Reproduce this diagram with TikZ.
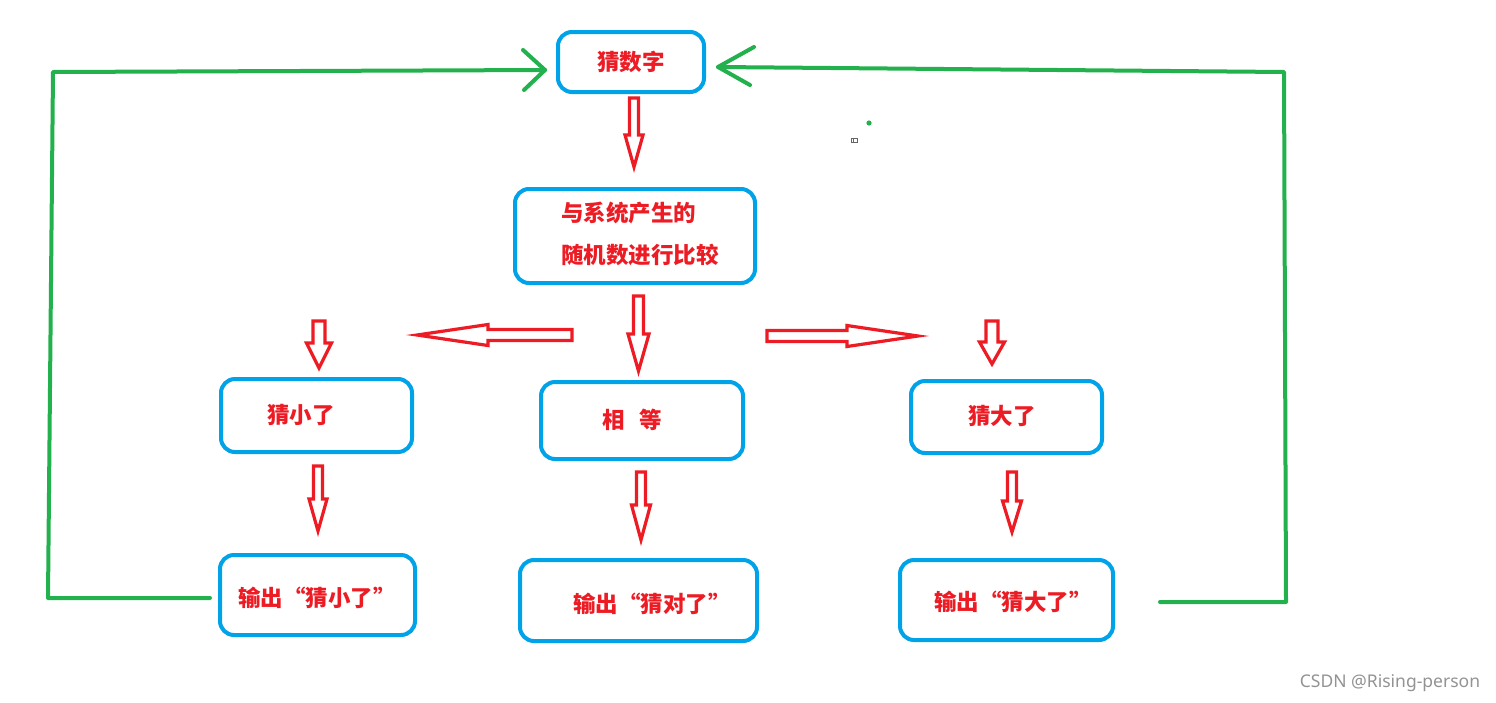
\documentclass[tikz,border=0pt]{standalone}
\usepackage{fontspec}
\newfontfamily\cjk{Noto Sans CJK SC}
\newfontfamily\wmfont{Noto Sans}
\usetikzlibrary{calc}
\definecolor{pblue}{HTML}{00A2E8}
\definecolor{pred}{HTML}{ED1C24}
\definecolor{pgreen}{HTML}{22B14C}
\tikzset{
  box/.style={draw=pblue, line width=4pt, rounded corners=14pt, inner sep=0pt},
  lbl/.style={text=pred, font=\cjk\bfseries\fontsize{22.5}{42}\selectfont, inner sep=0pt},
  hollow/.style={draw=pred, line width=3.2pt, line join=miter, fill=white},
  gline/.style={draw=pgreen, line width=4pt, line join=round, line cap=round},
}
% vertical hollow arrow: #1 top, #2 tip, #3 head length, #4 shaft half width, #5 head half width
\newcommand\downhollow[5]{%
  \draw[hollow] let \p1=(#1), \p2=(#2) in
    (\x1-#4,\y1) -- (\x1+#4,\y1) -- (\x1+#4,\y2+#3) -- (\x1+#5,\y2+#3)
    -- (\x2,\y2) -- (\x1-#5,\y2+#3) -- (\x1-#4,\y2+#3) -- cycle;}
% horizontal hollow arrow: #1 tail, #2 tip, #3 signed offset of head base from tip
\newcommand\sidehollow[3]{%
  \draw[hollow] let \p1=(#1), \p2=(#2) in
    (\x1,\y1-5.5pt) -- (\x2+#3,\y1-5.5pt) -- (\x2+#3,\y1-10.5pt) -- (\x2,\y2)
    -- (\x2+#3,\y1+10.5pt) -- (\x2+#3,\y1+5.5pt) -- (\x1,\y1+5.5pt) -- cycle;}
\begin{document}
\begin{tikzpicture}[x=1pt,y=-1pt]
\useasboundingbox[fill=white] (0,0) rectangle (1496,702);

% boxes
\node[box, minimum width=146pt, minimum height=60pt] (b1) at (631,62) {};
\node[box, minimum width=240pt, minimum height=94pt] (b2) at (635,236) {};
\node[box, minimum width=191pt, minimum height=73pt] (b3) at (316.5,415.5) {};
\node[box, minimum width=202pt, minimum height=77pt] (b4) at (642,420.5) {};
\node[box, minimum width=191pt, minimum height=72pt] (b5) at (1006.5,417) {};
\node[box, minimum width=195pt, minimum height=80pt] (b6) at (317.5,595) {};
\node[box, minimum width=237pt, minimum height=81pt] (b7) at (638.5,600.5) {};
\node[box, minimum width=213pt, minimum height=80pt] (b8) at (1006.5,600) {};

% texts
\node[lbl] (t1) at (631,62) {猜数字};
\node[lbl, align=left] (t2) at (640,234) {与系统产生的\\随机数进行比较};
\node[lbl] (t3) at (301,415) {猜小了};
\node[lbl] (t4) at (632,420) {相\hspace{14pt}等};
\node[lbl] (t5) at (1002,416) {猜大了};
\node[lbl] (t6) at (317,598) {输出“猜小了”};
\node[lbl] (t7) at (652,604) {输出“猜对了”};
\node[lbl] (t8) at (1013,602) {输出“猜大了”};

% arrow end points
\coordinate (a1s) at (634,98);   \coordinate (a1e) at (634,167);
\coordinate (a2s) at (638.5,296);\coordinate (a2e) at (638.5,371);
\coordinate (a3s) at (319,321);  \coordinate (a3e) at (319,368);
\coordinate (a4s) at (992,321);  \coordinate (a4e) at (992,364);
\coordinate (a5s) at (318,466);  \coordinate (a5e) at (318,531);
\coordinate (a6s) at (641,472);  \coordinate (a6e) at (641,540);
\coordinate (a7s) at (1012,472); \coordinate (a7e) at (1012,532);
\coordinate (h1s) at (572,335);  \coordinate (h1e) at (417,335);
\coordinate (h2s) at (767,336);  \coordinate (h2e) at (918,336);

\downhollow{a1s}{a1e}{32pt}{4.5pt}{9pt}
\downhollow{a2s}{a2e}{37pt}{5pt}{10.5pt}
\downhollow{a3s}{a3e}{25pt}{6pt}{12.5pt}
\downhollow{a4s}{a4e}{22pt}{6pt}{12.5pt}
\downhollow{a5s}{a5e}{32pt}{4.5pt}{9pt}
\downhollow{a6s}{a6e}{35pt}{4.5pt}{9.5pt}
\downhollow{a7s}{a7e}{31pt}{4.5pt}{9.5pt}
\sidehollow{h1s}{h1e}{71pt}
\sidehollow{h2s}{h2e}{-71pt}

% green feedback lines
\coordinate (gl0) at (210,598); \coordinate (gl1) at (48,598);
\coordinate (gl2) at (53,72);   \coordinate (gl3) at (545,70);
\coordinate (gla) at (523,50);  \coordinate (glb) at (524,90);
\draw[gline] (gl0) -- (gl1) -- (gl2) -- (gl3);
\draw[gline] (gla) -- (gl3) -- (glb);
\coordinate (gr0) at (1160,602); \coordinate (gr1) at (1286,602);
\coordinate (gr2) at (1284,72);  \coordinate (gr3) at (718,67);
\coordinate (gra) at (754,47);   \coordinate (grb) at (750,85);
\draw[gline] (gr0) -- (gr1) -- (gr2) -- (gr3);
\draw[gline] (gra) -- (gr3) -- (grb);

% stray marks
\fill[pgreen] (869,123) circle (2.6pt);
\draw[gray!80!black, line width=0.8pt] (851.5,138) rectangle (857.5,142);
\draw[gray!80!black, line width=0.8pt] (853.5,138) -- (853.5,142);

% watermark
\node[text=gray!85, font=\wmfont\fontsize{17.5}{17.5}\selectfont, inner sep=0pt] (wm) at (1390,683) {CSDN @Rising-person};
\end{tikzpicture}
\end{document}
